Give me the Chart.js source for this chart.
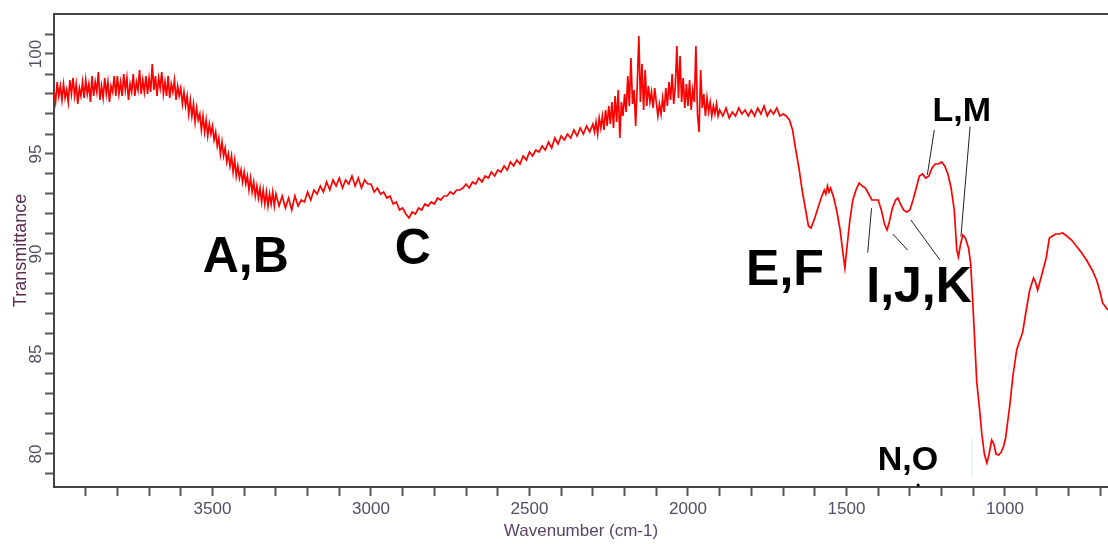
<!DOCTYPE html>
<html><head><meta charset="utf-8">
<script src="https://cdn.jsdelivr.net/npm/chart.js@4/dist/chart.umd.min.js"></script>
<style>html,body{margin:0;padding:0;background:#fff;overflow:hidden}canvas{display:block}</style>
</head><body>
<canvas id="c" width="1108" height="544"></canvas>
<script>
const wavenumbers = [
4000,3995,3990,3985,3980,3975,3970,3965,3960,3955,3950,3945,3940,3935,3930,3925,3920,3915,3910,3905,
3900,3895,3890,3885,3880,3875,3870,3865,3860,3855,3850,3845,3840,3835,3830,3825,3820,3815,3810,3805,
3800,3795,3790,3785,3780,3775,3770,3765,3760,3755,3750,3745,3740,3735,3730,3725,3720,3715,3710,3705,
3700,3695,3690,3685,3680,3675,3670,3665,3660,3655,3650,3645,3640,3635,3630,3625,3620,3615,3610,3605,
3600,3595,3590,3585,3580,3575,3570,3565,3560,3555,3550,3545,3540,3535,3530,3525,3520,3515,3510,3505,
3500,3495,3490,3485,3480,3475,3470,3465,3460,3455,3450,3445,3440,3435,3430,3425,3420,3415,3410,3405,
3400,3395,3390,3385,3380,3375,3370,3365,3360,3355,3350,3345,3340,3335,3330,3325,3320,3315,3310,3305,
3300,3290,3280,3270,3260,3250,3240,3230,3220,3210,
3200,3190,3180,3170,3160,3150,3140,3130,3120,3110,
3100,3090,3080,3070,3060,3050,3040,3030,3020,3010,
3000,2990,2980,2970,2960,2950,2940,2930,2920,2910,
2900,2890,2880,2870,2860,2850,2840,2830,2820,2810,
2800,2790,2780,2770,2760,2750,2740,2730,2720,2710,
2700,2690,2680,2670,2660,2650,2640,2630,2620,2610,
2600,2590,2580,2570,2560,2550,2540,2530,2520,2510,
2500,2490,2480,2470,2460,2450,2440,2430,2420,2410,
2400,2390,2380,2370,2360,2350,2340,2330,2320,2310,
2300,2295,2290,2285,2280,2275,2270,2265,2260,2255,2250,2245,2240,2235,2230,2225,2220,2215,2210,2205,
2200,2195,2190,2185,2180,2175,2170,2165,2160,2155,2150,2145,2140,2135,2130,2125,2120,2115,2110,2105,
2100,2095,2090,2085,2080,2075,2070,2065,2060,2055,2050,2045,2040,2035,2030,2025,2020,2015,2010,2005,
2000,1995,1990,1985,1980,1975,1970,1965,1960,1955,1950,1945,1940,1935,1930,1925,1920,1915,1910,1905,
1900,1890,1880,1870,1860,1850,1840,1830,1820,1810,
1800,1790,1780,1770,1760,1750,1740,1730,1720,1710,
1700,1690,1680,1670,1660,1650,1640,1630,1620,1612,
1600,1590,1580,1570,1565,1560,1555,1550,1540,1530,
1520,1510,1505,1498,1490,1480,1470,1460,1450,1440,
1430,1420,1410,1400,1390,1380,1372,1365,1355,1345,
1338,1330,1320,1310,1300,1290,1280,1270,1260,1250,
1240,1230,1220,1210,1200,1190,1180,1170,1160,1152,
1147,1140,1133,1125,1115,1108,1102,1095,1089,1080,
1073,1065,1057,1050,1042,1035,1028,1020,1012,1004,
998,990,985,975,963,955,944,935,922,910,
904,897,890,880,870,860,850,840,830,818,
805,790,780,760,743,725,711,700,692,680,
675];
const transmittance = [
98.1,97.6,98.6,97.9,98.4,97.7,98.5,97.8,98.2,97.6,98.7,98.0,98.8,97.9,98.5,97.5,98.3,97.9,98.6,97.8,
98.7,98.0,98.5,97.6,98.9,97.9,98.6,98.1,99.1,97.7,98.4,97.8,98.8,98.0,98.6,97.6,98.4,98.1,98.9,97.9,
98.9,98.0,98.6,97.9,99.0,98.2,98.8,97.7,98.5,98.1,99.0,97.9,98.6,98.2,99.2,98.0,98.7,98.1,98.9,98.0,
98.8,98.1,99.5,98.2,98.9,97.9,98.8,98.3,99.1,98.0,98.6,97.9,98.9,97.8,98.5,98.1,98.7,97.7,98.4,97.9,
98.3,97.5,98.1,97.4,97.9,97.0,97.7,96.9,97.5,96.6,97.3,96.7,97.0,96.2,96.9,96.1,96.7,95.9,96.5,96.0,
96.4,95.7,96.1,95.4,95.8,95.0,95.6,94.9,95.3,94.6,95.0,94.4,94.9,94.1,94.7,93.9,94.4,93.8,94.2,93.6,
94.1,93.5,93.9,93.2,93.8,93.1,93.6,92.9,93.4,92.8,93.3,92.6,93.2,92.5,93.1,92.4,93.0,92.5,93.1,92.4,
93.0,92.4,92.9,92.3,92.8,92.2,92.9,92.4,92.7,92.6,
93.1,92.7,93.2,93.0,93.4,93.1,93.6,93.2,93.7,93.4,
93.8,93.3,93.7,93.5,93.9,93.4,93.8,93.3,93.7,93.5,
93.5,93.1,93.3,93.0,93.1,92.8,92.9,92.5,92.6,92.2,
92.3,92.0,91.8,92.1,92.0,92.3,92.2,92.5,92.4,92.6,
92.5,92.8,92.7,92.9,92.9,93.1,93.0,93.2,93.2,93.3,
93.5,93.3,93.6,93.5,93.8,93.6,93.9,93.8,94.1,93.9,
94.2,94.1,94.4,94.2,94.6,94.4,94.7,94.5,94.9,94.7,
95.1,94.9,95.2,95.1,95.4,95.2,95.6,95.3,95.8,95.5,
95.9,95.7,96.0,95.8,96.2,95.9,96.3,96.0,96.4,96.1,
96.5,96.1,96.6,96.0,96.8,96.3,96.9,96.2,97.2,96.4,97.4,96.5,97.6,96.3,97.9,96.6,98.2,95.8,97.6,96.9,
98.0,97.1,98.9,97.4,99.8,97.5,98.2,96.4,98.5,100.9,97.6,99.5,97.2,99.2,97.4,98.4,97.6,98.1,97.3,98.3,
97.6,96.9,97.5,97.0,97.8,97.1,98.3,97.4,98.6,97.7,99.0,97.5,98.4,100.4,97.8,99.9,97.6,98.8,97.3,98.5,
97.4,98.7,97.2,98.2,97.6,100.4,97.0,96.1,99.2,97.3,98.0,96.9,97.8,97.1,97.6,96.9,97.4,97.0,97.5,96.9,
97.2,96.9,97.3,96.8,97.1,96.9,97.3,97.0,97.2,96.9,
97.2,96.9,97.3,97.0,97.4,96.9,97.2,97.0,97.3,96.9,
97.0,96.9,96.7,96.2,95.2,94.3,93.2,92.3,91.4,91.3,
91.8,92.3,92.8,93.2,93.0,93.4,93.1,93.3,92.8,92.1,
91.2,89.9,89.3,90.4,91.6,92.7,93.2,93.55,93.4,93.3,
93.0,92.7,92.7,92.7,92.2,91.5,91.2,91.6,92.3,92.7,
92.8,92.5,92.2,92.1,92.2,92.7,93.3,93.9,94.0,93.8,
93.9,94.3,94.5,94.5,94.6,94.4,94.0,93.3,92.2,90.2,
89.85,90.5,90.95,90.8,90.3,89.5,87.7,85.5,83.6,82.2,
81.0,80.0,79.55,80.0,80.7,80.5,80.0,79.95,80.1,80.4,
80.8,81.8,82.4,83.9,85.2,85.6,86.1,87.0,88.2,88.8,
88.6,88.2,88.6,89.2,89.8,90.8,90.9,91.0,91.0,91.05,
90.9,90.7,90.5,90.1,89.7,89.2,88.7,88.1,87.55,87.3,
87.2];

const xTickValues = [700,800,900,1000,1100,1200,1300,1400,1500,1600,1700,1800,1900,2000,2100,2200,2300,2400,2500,2600,2700,2800,2900,3000,3100,3200,3300,3400,3500,3600,3700,3800,3900];
const xLabelValues = [1000,1500,2000,2500,3000,3500];
const yTickValues = [79,80,81,82,83,84,85,86,87,88,89,90,91,92,93,94,95,96,97,98,99,100,101];
const yLabelValues = [80,85,90,95,100];

const labelTexts = ['A,B','C','E,F','I,J,K','L,M','N,O'];
const labelWavenumbers = [3395,2868,1694,1271,1136,1306];
const labelTransmittance = [89.1,89.5,88.45,87.6,96.67,79.2];
const labelSizes = [50,50,50,50,34,34];

const leaderFromWn = [1433,1354,1297,1223,1110];
const leaderFromT = [90.07,91.0,91.7,96.2,96.37];
const leaderToWn = [1421,1307,1205,1245,1139];
const leaderToT = [92.29,90.2,89.7,93.95,90.87];

Chart.defaults.font.family = '"Liberation Sans", Arial, sans-serif';

const annotate = {
  id: 'annotate',
  afterDraw(chart) {
    const {ctx, chartArea, scales: {x, y}} = chart;
    ctx.save();
    ctx.strokeStyle = '#444'; ctx.lineWidth = 2;
    ctx.beginPath(); ctx.moveTo(chartArea.left, chartArea.top); ctx.lineTo(chartArea.right, chartArea.top); ctx.stroke();
    ctx.fillStyle = '#4f4f66'; ctx.font = '17px "Liberation Sans", Arial, sans-serif';
    ctx.textAlign = 'center'; ctx.textBaseline = 'middle';
    yLabelValues.forEach(v => {
      ctx.save();
      ctx.translate(y.right - 18, y.getPixelForValue(v));
      ctx.rotate(-Math.PI / 2);
      ctx.fillText(String(v), 0, 0);
      ctx.restore();
    });
    ctx.strokeStyle = '#222'; ctx.lineWidth = 1;
    for (let i = 0; i < leaderFromWn.length; i++) {
      ctx.beginPath();
      ctx.moveTo(x.getPixelForValue(leaderFromWn[i]), y.getPixelForValue(leaderFromT[i]));
      ctx.lineTo(x.getPixelForValue(leaderToWn[i]), y.getPixelForValue(leaderToT[i]));
      ctx.stroke();
    }
    ctx.strokeStyle = '#dcebf7';
    ctx.beginPath();
    ctx.moveTo(x.getPixelForValue(1104), y.getPixelForValue(80.8));
    ctx.lineTo(x.getPixelForValue(1104), y.getPixelForValue(78.85));
    ctx.stroke();
    ctx.fillStyle = '#000';
    ctx.beginPath();
    ctx.arc(x.getPixelForValue(1274), y.getPixelForValue(78.45), 1.6, 0, Math.PI * 2);
    ctx.fill();
    ctx.textAlign = 'center'; ctx.textBaseline = 'alphabetic';
    labelTexts.forEach((t, i) => {
      ctx.font = 'bold ' + labelSizes[i] + 'px "Liberation Sans", Arial, sans-serif';
      ctx.fillText(t, x.getPixelForValue(labelWavenumbers[i]), y.getPixelForValue(labelTransmittance[i]));
    });
    ctx.restore();
  }
};

new Chart(document.getElementById('c'), {
  type: 'line',
  data: {
    datasets: [{
      data: wavenumbers.map((w, i) => ({x: w, y: transmittance[i]})),
      borderColor: '#ff0000',
      borderWidth: 1.7,
      pointRadius: 0,
      tension: 0,
      fill: false
    }]
  },
  options: {
    responsive: false,
    animation: false,
    events: [],
    layout: {padding: {top: 14, right: 0, left: 0, bottom: 0}},
    plugins: {legend: {display: false}, tooltip: {enabled: false}},
    scales: {
      x: {
        type: 'linear', reverse: true, min: 675, max: 4000,
        afterBuildTicks: s => { s.ticks = xTickValues.map(v => ({value: v})); },
        afterFit: s => { s.height = 57; },
        ticks: {
          autoSkip: false, maxRotation: 0, minRotation: 0, padding: 3,
          color: '#4f4f66', font: {size: 17},
          callback: v => xLabelValues.includes(v) ? String(v) : ''
        },
        grid: {drawOnChartArea: false, drawTicks: true, tickLength: 9, tickWidth: 2, tickColor: '#555'},
        border: {display: true, color: '#444', width: 2},
        title: {display: true, text: 'Wavenumber (cm-1)', color: '#5a4466', font: {size: 17}, padding: {top: 0, bottom: 2}}
      },
      y: {
        type: 'linear', min: 78.35, max: 102,
        afterBuildTicks: s => { s.ticks = yTickValues.map(v => ({value: v})); },
        afterFit: s => { s.width = 54; },
        ticks: {display: false},
        grid: {drawOnChartArea: false, drawTicks: true, tickLength: 9, tickWidth: 2, tickColor: '#555'},
        border: {display: true, color: '#444', width: 2},
        title: {display: true, text: 'Transmittance', color: '#5a2c50', font: {size: 18}, padding: {top: 10, bottom: 0}}
      }
    }
  },
  plugins: [annotate]
});
</script>
</body></html>
